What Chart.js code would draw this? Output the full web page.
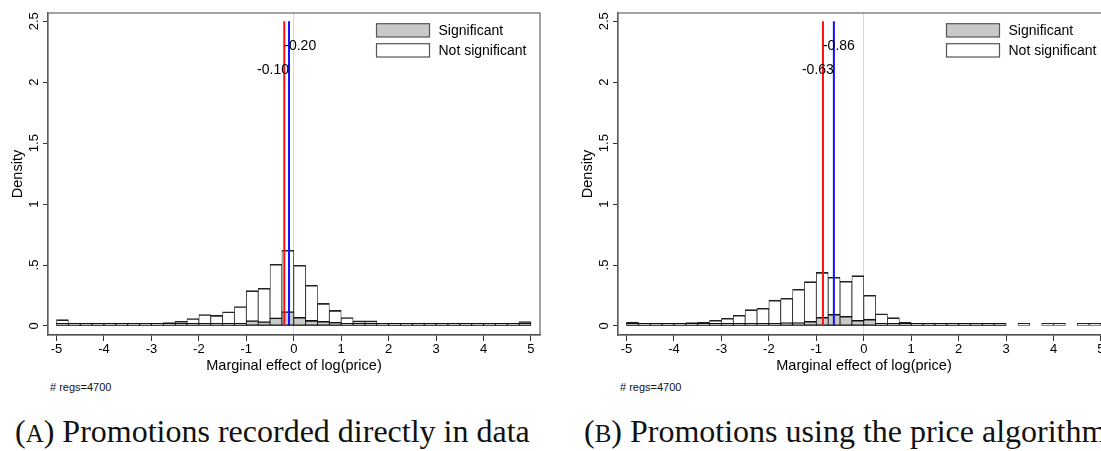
<!DOCTYPE html>
<html>
<head>
<meta charset="utf-8">
<script src="https://cdn.jsdelivr.net/npm/chart.js@4.4.1/dist/chart.umd.min.js"></script>
<style>
  html, body { margin: 0; padding: 0; background: #fff; }
  body { width: 1101px; height: 451px; overflow: hidden; position: relative; font-family: "Liberation Sans", Arial, sans-serif; }
  .panel { position: absolute; top: 0; width: 570px; height: 380px; }
  .panel canvas { display: block; }
  .note { position: absolute; top: 381px; font-size: 11px; color: #111; }
  .caption { position: absolute; top: 413px; font-family: "Liberation Serif", "Times New Roman", serif; font-size: 32px; white-space: nowrap; color: #111; }
  .caption .sc { font-size: 0.78em; }
</style>
</head>
<body>
<div class="panel" style="left:0"><canvas id="chartA" width="570" height="380"></canvas></div>
<div class="panel" style="left:570px"><canvas id="chartB" width="570" height="380"></canvas></div>
<div class="note" style="left:50px"># regs=4700</div>
<div class="note" style="left:620px"># regs=4700</div>
<div class="caption" style="left:15px">(<span class="sc">A</span>) Promotions recorded directly in data</div>
<div class="caption" style="left:584px">(<span class="sc">B</span>) Promotions using the price algorithm</div>

<script>
// histogram bins of width 0.25 between -5 and 5 (centres)
const binCenters = [
  -4.875, -4.625, -4.375, -4.125, -3.875, -3.625, -3.375, -3.125, -2.875, -2.625,
  -2.375, -2.125, -1.875, -1.625, -1.375, -1.125, -0.875, -0.625, -0.375, -0.125,
   0.125,  0.375,  0.625,  0.875,  1.125,  1.375,  1.625,  1.875,  2.125,  2.375,
   2.625,  2.875,  3.125,  3.375,  3.625,  3.875,  4.125,  4.375,  4.625,  4.875
];
const xTicks = [-5, -4, -3, -2, -1, 0, 1, 2, 3, 4, 5];
const yTicks = [0, 0.5, 1, 1.5, 2, 2.5];

// (A) promotions recorded in the data
const sigA = [
  0.002, 0.003, 0.005, 0.004, 0.002, 0.006, 0.004, 0.006, 0.005, 0.008,
  0.016, 0.006, 0.014, 0.008, 0.022, 0.010, 0.045, 0.037, 0.067, 0.118,
  0.071, 0.046, 0.038, 0.030, 0.014, 0.006, 0.008, 0.020, 0.022, 0.011,
  0.008, 0.004, 0.003, 0.002, 0.002, 0.002, 0.002, 0.003, 0.004, 0.006
];
const notSigA = [
  0.052, 0.004, 0.013, 0.008, 0.004, 0.004, 0.008, 0.013, 0.009, 0.028,
  0.038, 0.061, 0.094, 0.087, 0.116, 0.160, 0.290, 0.309, 0.506, 0.621,
  0.498, 0.334, 0.185, 0.128, 0.069, 0.042, 0.042, 0.020, 0.019, 0.013,
  0.010, 0.005, 0.003, 0.003, 0.003, 0.003, 0.003, 0.003, 0.005, 0.036
];
const redA = -0.20;
const blueA = -0.10;

// (B) promotions from the price algorithm
const sigB = [
  0.003, 0.002, 0.005, 0.002, 0.006, 0.004, 0.004, 0.006, 0.005, 0.006,
  0.007, 0.011, 0.016, 0.027, 0.027, 0.038, 0.071, 0.096, 0.080, 0.047,
  0.056, 0.014, 0.006, 0.004, 0.020, 0.010, 0.004, 0.003, 0.004, 0.014,
  0.003, 0.002, null, null, null, null, null, null, null, null
];
const notSigB = [
  0.033, 0.005, 0.008, 0.004, 0.011, 0.027, 0.030, 0.047, 0.063, 0.088,
  0.134, 0.145, 0.212, 0.227, 0.301, 0.364, 0.440, 0.400, 0.367, 0.413,
  0.252, 0.100, 0.068, 0.030, 0.018, 0.014, 0.008, 0.005, 0.006, 0.012,
  0.005, 0.003, null, 0.002, null, 0.002, 0.002, null, 0.002, 0.002
];
const redB = -0.86;
const blueB = -0.63;

const FONT = '"Liberation Sans", Arial, Helvetica, sans-serif';

// plot region outline
const frame = {
  id: 'frame',
  beforeDatasetsDraw(chart) {
    const { ctx, chartArea: a } = chart;
    ctx.save();
    ctx.strokeStyle = '#666';
    ctx.lineWidth = 1.2;
    ctx.strokeRect(a.left, a.top, a.right - a.left, a.bottom - a.top);
    ctx.restore();
  }
};

// value labels next to the red / blue lines
const lineLabels = {
  id: 'lineLabels',
  afterDatasetsDraw(chart) {
    const { ctx, scales: { x, y } } = chart;
    ctx.save();
    ctx.font = '14px ' + FONT;
    ctx.fillStyle = '#000';
    ctx.textBaseline = 'middle';
    chart.data.datasets.forEach(ds => {
      if (ds.markAt === undefined) return;
      ctx.textAlign = ds.labelSide === 'right' ? 'left' : 'right';
      ctx.fillText(ds.markAt.toFixed(2), x.getPixelForValue(ds.markAt), y.getPixelForValue(ds.labelY));
    });
    ctx.restore();
  }
};

// boxed legend in the top right of the plot region
const boxLegend = {
  id: 'boxLegend',
  afterDraw(chart) {
    const { ctx, chartArea: a } = chart;
    const bars = chart.data.datasets.filter(d => d.type === 'bar');
    ctx.save();
    ctx.font = '14px ' + FONT;
    ctx.textBaseline = 'middle';
    ctx.textAlign = 'left';
    bars.forEach((ds, i) => {
      const bx = a.right - 163.5, by = a.top + 10.7 + i * 20;
      ctx.fillStyle = ds.backgroundColor;
      ctx.fillRect(bx, by, 53, 13.3);
      ctx.strokeStyle = '#555';
      ctx.lineWidth = 1.2;
      ctx.strokeRect(bx, by, 53, 13.3);
      ctx.fillStyle = '#000';
      ctx.fillText(ds.label, bx + 62, by + 7);
    });
    ctx.restore();
  }
};

function buildChart(id, sig, notSig, red, blue) {
  const pts = arr => binCenters.map((x, i) => ({ x, y: arr[i] })).filter(p => p.y !== null);
  const top = yTicks[yTicks.length - 1];
  const barBorder = { top: 1.6, left: 0.8, right: 0.8, bottom: 1.4 };
  return new Chart(document.getElementById(id).getContext('2d'), {
    type: 'bar',
    data: {
      datasets: [
        { type: 'line', data: [{ x: red, y: 0 }, { x: red, y: top }], borderColor: '#ff1010', borderWidth: 2,
          pointRadius: 0, order: -2, markAt: red, labelY: 2.3, labelSide: 'right' },
        { type: 'line', data: [{ x: blue, y: 0 }, { x: blue, y: top }], borderColor: '#1010ff', borderWidth: 2,
          pointRadius: 0, order: -1, markAt: blue, labelY: 2.1, labelSide: 'left' },
        { type: 'bar', label: 'Significant', data: pts(sig), backgroundColor: '#c9c9c9',
          borderColor: '#111', borderWidth: barBorder, order: 0 },
        { type: 'bar', label: 'Not significant', data: pts(notSig), backgroundColor: '#ffffff',
          borderColor: '#222', borderWidth: barBorder, order: 1 }
      ]
    },
    options: {
      responsive: false,
      animation: false,
      layout: { padding: { top: 13, right: 30, left: 0, bottom: 0 } },
      datasets: {
        bar: { grouped: false, barPercentage: 1, categoryPercentage: 1, minBarLength: 2.6, borderSkipped: false }
      },
      plugins: { legend: { display: false }, tooltip: { enabled: false } },
      scales: {
        x: {
          type: 'linear', min: -5.18, max: 5.19, offset: false,
          afterBuildTicks: s => { s.ticks = xTicks.map(v => ({ value: v })); },
          afterFit: s => { s.height = 45; },
          ticks: { color: '#000', font: { family: FONT, size: 13 }, padding: 1, maxRotation: 0, autoSkip: false,
                   callback: v => String(v) },
          grid: { offset: false, tickLength: 6, tickColor: '#333', lineWidth: 1,
                  color: c => c.tick && c.tick.value === 0 ? '#d9d9d9' : 'rgba(0,0,0,0)' },
          border: { display: true, color: '#333', width: 1.2 },
          title: { display: true, text: 'Marginal effect of log(price)', color: '#000',
                   font: { family: FONT, size: 14.5 }, padding: { top: 0, bottom: 5 } }
        },
        y: {
          type: 'linear', min: -0.074, max: 2.568,
          afterBuildTicks: s => { s.ticks = yTicks.map(v => ({ value: v })); },
          afterFit: s => { s.width = 48; },
          ticks: { color: '#000', font: { family: FONT, size: 13 }, padding: 0, minRotation: 90, maxRotation: 90,
                   crossAlign: 'center', callback: v => v === 0 ? '0' : String(v).replace(/^0\./, '.') },
          grid: { drawOnChartArea: false, tickLength: 5, tickColor: '#333' },
          border: { display: true, color: '#555', width: 1.2 },
          title: { display: true, text: 'Density', color: '#000',
                   font: { family: FONT, size: 14.5 }, padding: { top: 9, bottom: 0 } }
        }
      }
    },
    plugins: [frame, lineLabels, boxLegend]
  });
}

buildChart('chartA', sigA, notSigA, redA, blueA);
buildChart('chartB', sigB, notSigB, redB, blueB);
</script>
</body>
</html>
